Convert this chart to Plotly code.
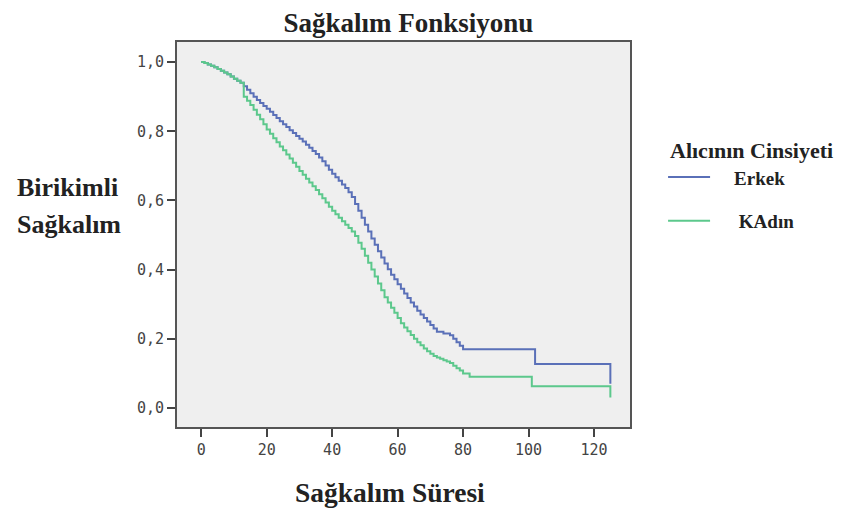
import plotly.graph_objects as go

# Kaplan-Meier survival estimates
erkek_t = [0, 1, 2, 3, 4, 5, 6, 7, 8, 9, 10, 11, 12, 13, 14, 15, 16, 17, 18, 19, 20, 21, 22, 23,
           24, 25, 26, 27, 28, 29, 30, 31, 32, 33, 34, 35, 36, 37, 38, 39, 40, 41, 42, 43, 44, 45,
           46, 47, 48, 49, 50, 51, 52, 53, 54, 55, 56, 57, 58, 59, 60, 61, 62, 63, 64, 65, 66, 67,
           68, 69, 70, 71, 72, 74, 76, 77, 78, 79, 80, 102, 125]
erkek_s = [1.0, 0.997, 0.993, 0.989, 0.985, 0.98, 0.975, 0.97, 0.965, 0.958, 0.952, 0.946, 0.94,
           0.93, 0.92, 0.91, 0.90, 0.89, 0.882, 0.873, 0.865, 0.856, 0.847, 0.838, 0.829, 0.82,
           0.812, 0.803, 0.795, 0.786, 0.778, 0.77, 0.761, 0.752, 0.743, 0.734, 0.724, 0.713,
           0.701, 0.689, 0.677, 0.667, 0.657, 0.646, 0.636, 0.624, 0.61, 0.59, 0.57, 0.55, 0.53,
           0.51, 0.49, 0.472, 0.453, 0.435, 0.418, 0.401, 0.385, 0.372, 0.358, 0.345, 0.331,
           0.318, 0.305, 0.293, 0.281, 0.27, 0.26, 0.25, 0.24, 0.23, 0.22, 0.215, 0.21, 0.20,
           0.19, 0.18, 0.17, 0.127, 0.07]

kadin_t = [0, 1, 2, 3, 4, 5, 6, 7, 8, 9, 10, 11, 12, 13, 14, 15, 16, 17, 18, 19, 20, 21, 22, 23,
           24, 25, 26, 27, 28, 29, 30, 31, 32, 33, 34, 35, 36, 37, 38, 39, 40, 41, 42, 43, 44, 45,
           46, 47, 48, 49, 50, 51, 52, 53, 54, 55, 56, 57, 58, 59, 60, 61, 62, 63, 64, 65, 66, 67,
           68, 69, 70, 71, 72, 73, 74, 75, 76, 77, 78, 79, 80, 82, 101, 125]
kadin_s = [1.0, 0.997, 0.993, 0.989, 0.985, 0.98, 0.975, 0.97, 0.965, 0.958, 0.952, 0.946, 0.94,
           0.90, 0.888, 0.876, 0.862, 0.848, 0.835, 0.82, 0.805, 0.793, 0.78, 0.768, 0.756, 0.745,
           0.733, 0.721, 0.709, 0.697, 0.685, 0.674, 0.663, 0.652, 0.641, 0.63, 0.618, 0.606,
           0.594, 0.582, 0.57, 0.56, 0.55, 0.54, 0.53, 0.52, 0.51, 0.497, 0.478, 0.46, 0.44, 0.42,
           0.40, 0.38, 0.36, 0.34, 0.32, 0.305, 0.29, 0.275, 0.26, 0.245, 0.233, 0.222, 0.211,
           0.20, 0.19, 0.181, 0.172, 0.164, 0.157, 0.15, 0.146, 0.142, 0.138, 0.134, 0.13, 0.122,
           0.115, 0.108, 0.10, 0.09, 0.063, 0.03]

x_ticks = [0, 20, 40, 60, 80, 100, 120]
y_ticks = [0.0, 0.2, 0.4, 0.6, 0.8, 1.0]
y_tick_labels = ["0,0", "0,2", "0,4", "0,6", "0,8", "1,0"]

serif = "Liberation Serif, Times New Roman, serif"
mono = "DejaVu Sans Mono, monospace"
ink = "#222222"
nb = "\u00a0"

fig = go.Figure()
fig.add_trace(go.Scatter(x=erkek_t, y=erkek_s, mode="lines", name=nb * 4 + "<b>Erkek</b>",
                         line=dict(color="#5A70B8", width=2, shape="hv"), legendgroup="a"))
fig.add_trace(go.Scatter(x=kadin_t, y=kadin_s, mode="lines", name=nb * 5 + "<b>KAdın</b>",
                         line=dict(color="#5CC88C", width=2, shape="hv"), legendgroup="b"))

fig.update_layout(
    width=850, height=508,
    margin=dict(l=169, r=228, t=34, b=89),
    paper_bgcolor="white",
    plot_bgcolor="#EFEFEF",
    title=dict(text="<b>Sağkalım Fonksiyonu</b>", x=0.471, xanchor="center", y=0.972, yanchor="middle",
               font=dict(family=serif, size=27, color=ink)),
    xaxis=dict(range=[-7.4, 131], tickvals=x_ticks, ticks="outside", ticklen=8, tickwidth=2,
               tickcolor="#444", showgrid=False, zeroline=False, showline=True, mirror=True,
               linecolor="#555", linewidth=2,
               tickfont=dict(family=mono, size=15, color="#444")),
    yaxis=dict(range=[-0.055, 1.058], tickvals=y_ticks, ticktext=y_tick_labels, ticks="outside",
               ticklen=8, tickwidth=2, tickcolor="#444", showgrid=False, zeroline=False,
               showline=True, mirror=True, linecolor="#555", linewidth=2,
               tickfont=dict(family=mono, size=15, color="#444")),
    legend=dict(x=1.073, y=0.698, xanchor="left", yanchor="top",
                font=dict(family=serif, size=19, color=ink),
                tracegroupgap=16, itemwidth=42, bgcolor="rgba(0,0,0,0)"),
    showlegend=True,
)

fig.add_annotation(text="<b>Alıcının Cinsiyeti</b>", xref="paper", yref="paper",
                   x=1.084, y=0.717, xanchor="left", yanchor="middle", showarrow=False,
                   font=dict(family=serif, size=22, color=ink))
fig.add_annotation(text="<b>Sağkalım Süresi</b>", xref="paper", yref="paper",
                   x=0.47, y=-0.169, xanchor="center", yanchor="middle", showarrow=False,
                   font=dict(family=serif, size=27.5, color=ink))
fig.add_annotation(text="<b>Birikimli</b>", xref="paper", yref="paper",
                   x=-0.358, y=0.623, xanchor="left", yanchor="middle", showarrow=False,
                   font=dict(family=serif, size=26, color=ink))
fig.add_annotation(text="<b>Sağkalım</b>", xref="paper", yref="paper",
                   x=-0.358, y=0.525, xanchor="left", yanchor="middle", showarrow=False,
                   font=dict(family=serif, size=26, color=ink))

fig.write_html("out.html")
